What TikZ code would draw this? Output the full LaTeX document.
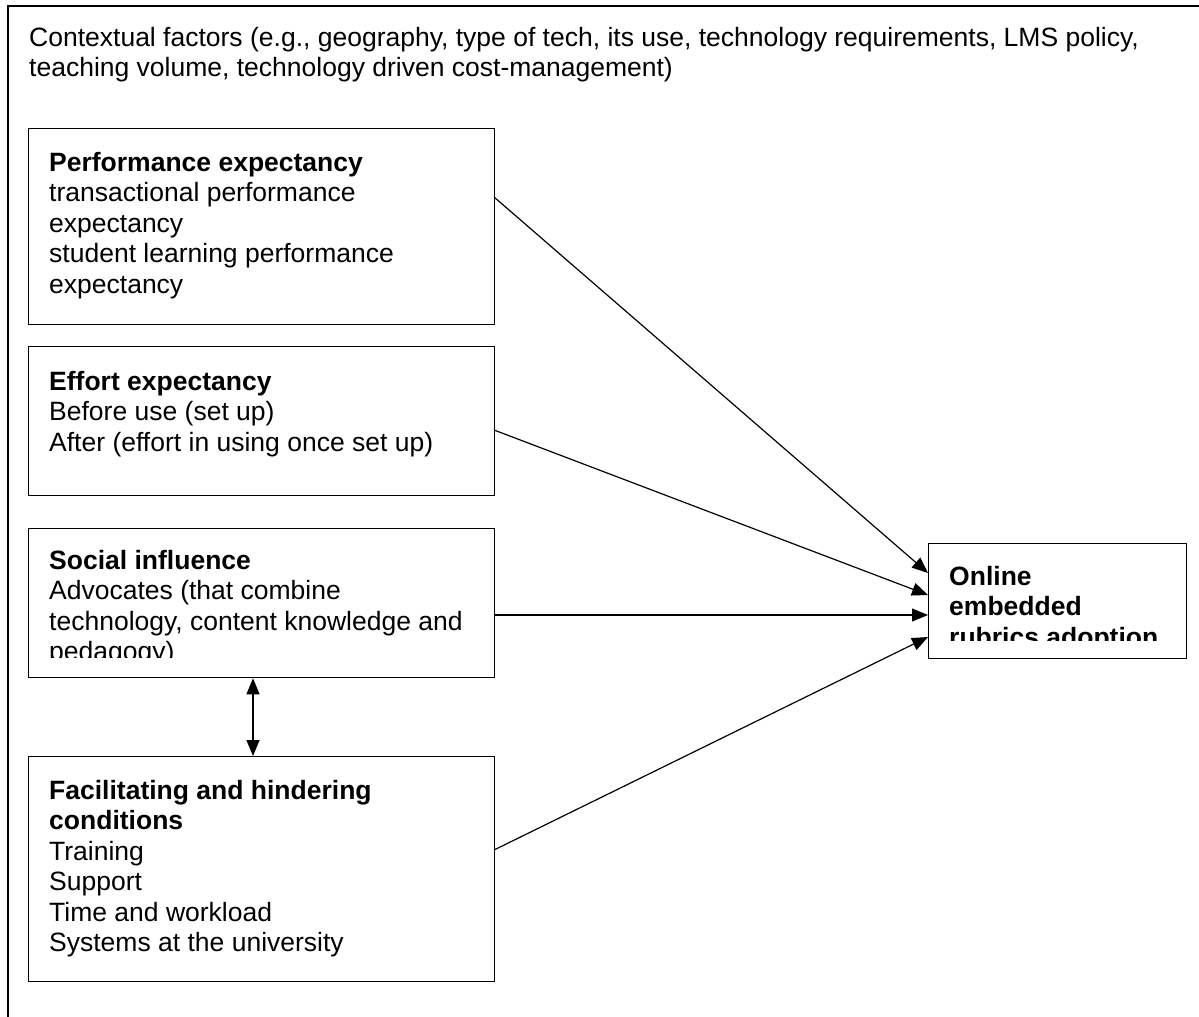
\documentclass[tikz,border=0pt]{standalone}
\usepackage{fontspec}
\setmainfont{Liberation Sans}
\usetikzlibrary{arrows.meta}
\tikzset{
  frame/.style={draw=black, line width=1.3pt},
  boxr/.style={draw=black, line width=1.3pt, anchor=north west, inner sep=0pt},
  txt/.style={anchor=north west, inner sep=0pt, align=left, font=\fontsize{26.5}{30.5}\selectfont},
  conn/.style={line width=1.2pt, -{Triangle[length=16pt,width=13pt]}},
  dconn/.style={line width=1.2pt, {Triangle[length=16pt,width=13pt]}-{Triangle[length=16pt,width=13pt]}}
}
\begin{document}
\begin{tikzpicture}[x=1pt,y=-1pt]
\useasboundingbox (0,0) rectangle (1199,1017);
% outer frame (cut off on right and bottom)
\begin{scope}
\clip (0,0) rectangle (1199,1017);
\draw[frame] (8,1100) -- (8,6) -- (1250,6);
\end{scope}
\node[txt] (ctx) at (29,24.6) {\strut Contextual factors (e.g., geography, type of tech, its use, technology requirements, LMS policy,\\teaching volume, technology driven cost-management)};

% boxes
\node[boxr, minimum width=466pt, minimum height=196pt] (perf) at (28,128) {};
\node[boxr, minimum width=466pt, minimum height=149pt] (eff) at (28,346) {};
\node[boxr, minimum width=466pt, minimum height=149pt] (soc) at (28,528) {};
\node[boxr, minimum width=466pt, minimum height=225pt] (fac) at (28,756) {};
\node[boxr, minimum width=258pt, minimum height=115pt] (out) at (928,543) {};

% texts
\node[txt] (perft) at (49,149.6) {\strut\textbf{Performance expectancy}\\transactional performance\\expectancy\\student learning performance\\expectancy};
\node[txt] (efft) at (49,368.6) {\strut\textbf{Effort expectancy}\\Before use (set up)\\After (effort in using once set up)};
\begin{scope}
\clip (28,528) rectangle (494,657);
\node[txt] (soct) at (49,547.6) {\strut\textbf{Social influence}\\Advocates (that combine\\technology, content knowledge and\\pedagogy)};
\end{scope}
\node[txt] (fact) at (49,777.6) {\strut\textbf{Facilitating and hindering}\\\textbf{conditions}\\Training\\Support\\Time and workload\\Systems at the university};
\begin{scope}
\clip (928,543) rectangle (1186,640);
\node[txt] (outt) at (949,563.6) {\strut\textbf{Online}\\\textbf{embedded}\\\textbf{rubrics adoption}};
\end{scope}

% connector anchor points
\coordinate (p1) at (494,197);
\coordinate (p2) at (494,430);
\coordinate (p3) at (494,615);
\coordinate (p4) at (494,850);
\coordinate (q1) at (928,573);
\coordinate (q2) at (928,595);
\coordinate (q3) at (928,615);
\coordinate (q4) at (928,637);
\draw[conn] (p1) -- (q1);
\draw[conn] (p2) -- (q2);
\draw[conn] (p3) -- (q3);
\draw[conn] (p4) -- (q4);
\draw[dconn] (soc.south west -| 253,0) -- (fac.north west -| 253,0);
\end{tikzpicture}
\end{document}
